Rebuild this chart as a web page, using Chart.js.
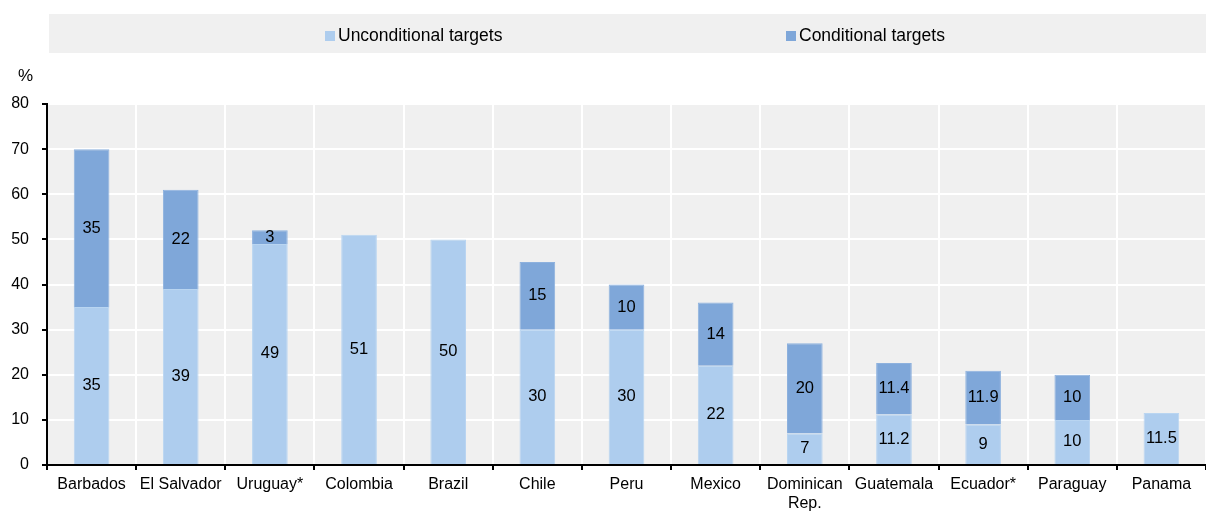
<!DOCTYPE html>
<html>
<head>
<meta charset="utf-8">
<script src="https://cdn.jsdelivr.net/npm/chart.js@4.4.1/dist/chart.umd.min.js"></script>
<style>
  html, body { margin: 0; padding: 0; background: #fff; }
  body { width: 1206px; height: 511px; position: relative; overflow: hidden;
         font-family: "Liberation Sans Narrow", "Arial Narrow", "Liberation Sans", Arial, sans-serif; color: #000; }
  #legend { position: absolute; left: 49px; top: 14px; width: 1157px; height: 39px; background: #f0f0f0; }
  .item { position: absolute; top: 2px; height: 39px; line-height: 39px; font-size: 17.5px; white-space: nowrap; }
  .item i { display: inline-block; width: 10px; height: 10px; margin-right: 3px; }
  #unit { position: absolute; left: 18px; top: 66px; font-size: 17px; }
  #wrap { position: absolute; left: 0; top: 0; width: 1206px; height: 511px; }
</style>
</head>
<body>
<div id="wrap"><canvas id="c" width="1206" height="511"></canvas></div>
<div id="legend"></div>
<div id="unit">%</div>
<script>
const categories = [["Barbados"], ["El Salvador"], ["Uruguay*"], ["Colombia"], ["Brazil"], ["Chile"], ["Peru"], ["Mexico"], ["Dominican", "Rep."], ["Guatemala"], ["Ecuador*"], ["Paraguay"], ["Panama"]];
const unconditional = [35, 39, 49, 51, 50, 30, 30, 22, 7, 11.2, 9, 10, 11.5];
const conditional = [35, 22, 3, null, null, 15, 10, 14, 20, 11.4, 11.9, 10, null];
const seriesNames = ["Unconditional targets", "Conditional targets"];
const seriesColors = ["#aecdee", "#7fa7d9"];
const seriesEdges = ["#b9d5f1", "#8db1de"];
const yTicks = [0, 10, 20, 30, 40, 50, 60, 70, 80];

const FONT = '"Liberation Sans Narrow", "Arial Narrow", "Liberation Sans", Arial, sans-serif';

// legend band
const legend = document.getElementById('legend');
const legendX = [276, 737];
seriesNames.forEach((n, i) => {
  const d = document.createElement('div');
  d.className = 'item';
  d.style.left = legendX[i] + 'px';
  d.innerHTML = '<i style="background:' + seriesColors[i] + '"></i>' + n;
  legend.appendChild(d);
});

const plotBg = {
  id: 'plotBg',
  beforeDraw(chart) {
    const { ctx, chartArea: a } = chart;
    ctx.save();
    ctx.fillStyle = '#f0f0f0';
    ctx.fillRect(a.left, a.top, a.right - a.left, a.bottom - a.top);
    ctx.restore();
  }
};

const segLabels = {
  id: 'segLabels',
  afterDatasetsDraw(chart) {
    const ctx = chart.ctx;
    ctx.save();
    ctx.fillStyle = '#000';
    ctx.font = '16.5px ' + FONT;
    ctx.textAlign = 'center';
    ctx.textBaseline = 'middle';
    chart.data.datasets.forEach((ds, di) => {
      chart.getDatasetMeta(di).data.forEach((el, i) => {
        const v = ds.data[i];
        if (v === null || v === undefined) return;
        ctx.fillText(String(v), el.x, (el.y + el.base) / 2);
      });
    });
    ctx.restore();
  }
};

new Chart(document.getElementById('c'), {
  type: 'bar',
  data: {
    labels: categories,
    datasets: [
      { label: seriesNames[0], data: unconditional, backgroundColor: seriesColors[0], borderColor: seriesEdges[0], borderWidth: 1 },
      { label: seriesNames[1], data: conditional, backgroundColor: seriesColors[1], borderColor: seriesEdges[1], borderWidth: 1 }
    ]
  },
  options: {
    responsive: false,
    animation: false,
    devicePixelRatio: 1,
    layout: { padding: { top: 104, right: 0, bottom: 0, left: 0 } },
    datasets: { bar: { barPercentage: 0.4, categoryPercentage: 1.0 } },
    plugins: { legend: { display: false }, tooltip: { enabled: false } },
    scales: {
      x: {
        stacked: true,
        afterFit(s) { s.height = 46; },
        grid: { color: '#ffffff', lineWidth: 2, tickColor: '#000', tickLength: 5, offset: true },
        border: { color: '#000', width: 2 },
        ticks: { color: '#000', font: { family: FONT, size: 16 }, padding: 5, maxRotation: 0, autoSkip: false }
      },
      y: {
        stacked: true,
        min: 0, max: 80,
        afterFit(s) { s.width = 47; },
        afterBuildTicks(s) { s.ticks = yTicks.map(v => ({ value: v })); },
        grid: { color: '#ffffff', lineWidth: 2, tickColor: '#000', tickLength: 5 },
        border: { color: '#000', width: 2 },
        ticks: { color: '#000', font: { family: FONT, size: 16 }, padding: 13 }
      }
    }
  },
  plugins: [plotBg, segLabels]
});
</script>
</body>
</html>
